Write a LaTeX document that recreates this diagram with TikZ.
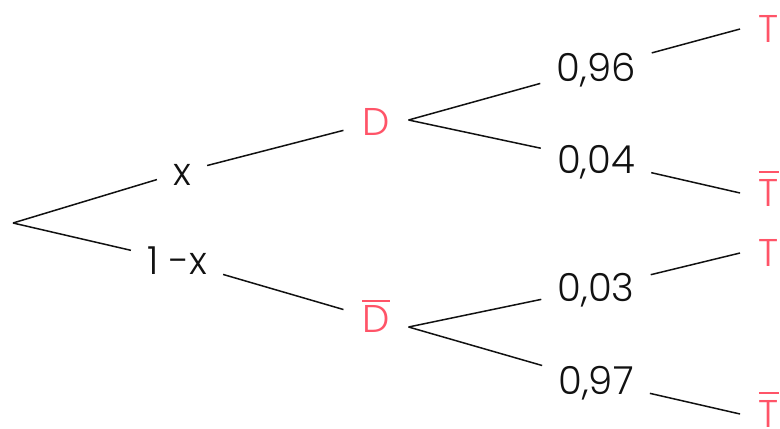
\documentclass[tikz,border=0pt]{standalone}
\usepackage{fontspec}
\setmainfont{Poppins Light}
\usepackage{tikz}
\definecolor{rose}{HTML}{FF5468}
\definecolor{ink}{HTML}{111111}

\newcommand{\compl}[2][2mm]{\vbox{\hrule height 0.6mm\kern #1\hbox{#2}}}

\begin{document}
\begin{tikzpicture}[
  x=0.3mm,
  y=0.3mm,
  font=\fontsize{33}{40}\selectfont,
  outcome/.style={
    text=rose,inner xsep=5.6mm,inner ysep=1mm,text height=8.1mm,text depth=0pt
  },
  prob/.style={
    text=ink,inner xsep=4.8mm,inner ysep=1mm,text height=8.1mm,text depth=0pt
  },
  branch/.style={draw=ink,line width=0.45mm}
]
  \useasboundingbox (0,0) rectangle (780,428);
  \clip (0,0) rectangle (780,428);

  % first level
  \coordinate (root) at (13,205);
  \node[prob] (p-x) at (182,256) {x};
  \node[prob] (p-nx) at (177,167) {1 -x};
  \node[outcome] (ev-d) at (376,306) {D};
  \node[outcome] (ev-nd) at (376,109) {\compl[0.9mm]{D}};
  \draw[branch] (root) -- (p-x) -- (ev-d);
  \draw[branch] (root) -- (p-nx) -- (ev-nd);
  \coordinate (fork-d) at ([yshift=0.6mm]ev-d.east);
  \coordinate (fork-nd) at ([yshift=-2.4mm]ev-nd.east);

  % after D
  \node[prob] (p-dt) at (596,360) {0,96};
  \node[prob] (p-dnt) at (596,268) {0,04};
  \node[outcome] (ev-dt) at (769,399) {T};
  \node[outcome] (ev-dnt) at (769,235) {\compl{T}};
  \draw[branch] (fork-d) -- (p-dt) -- (ev-dt.west);
  \draw[branch] (fork-d) -- (p-dnt) -- (ev-dnt.west);

  % after not D
  \node[prob] (p-ndt) at (596,140) {0,03};
  \node[prob] (p-ndnt) at (596,47) {0,97};
  \node[outcome] (ev-ndt) at (769,175) {T};
  \node[outcome] (ev-ndnt) at (769,14) {\compl{T}};
  \draw[branch] (fork-nd) -- (p-ndt) -- (ev-ndt.west);
  \draw[branch] (fork-nd) -- (p-ndnt) -- (ev-ndnt.west);
\end{tikzpicture}
\end{document}
